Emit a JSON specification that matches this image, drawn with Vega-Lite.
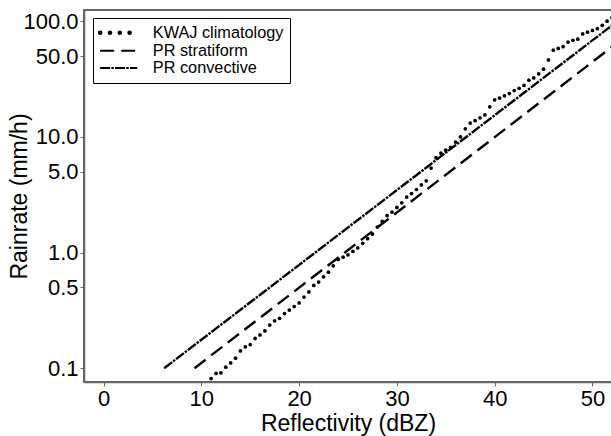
{
  "$schema": "https://vega.github.io/schema/vega-lite/v6.json",
  "width": 528,
  "height": 372,
  "autosize": {"type": "none"},
  "padding": {"left": 84, "top": 10, "right": 0, "bottom": 54},
  "background": "white",
  "config": {
    "view": {"stroke": "#333", "strokeWidth": 1.5},
    "font": "Liberation Sans",
    "axis": {
      "grid": false,
      "domainColor": "#666",
      "domainWidth": 1.5,
      "tickColor": "#666",
      "tickSize": 4,
      "labelFont": "Liberation Sans",
      "labelFontSize": 22,
      "labelColor": "black",
      "titleFont": "Liberation Sans",
      "titleFontSize": 23,
      "titleFontWeight": "normal",
      "titleColor": "black",
      "labelPadding": 2
    },
    "legend": {
      "labelFont": "Liberation Sans",
      "labelFontSize": 16.3,
      "labelColor": "black",
      "strokeWidth": 1
    }
  },
  "data": {
    "values": [
      {"series": "PR stratiform", "dbz": 9.3, "r": 0.1},
      {"series": "PR stratiform", "dbz": 52, "r": 60},
      {"series": "PR convective", "dbz": 6.2, "r": 0.1},
      {"series": "PR convective", "dbz": 52, "r": 92},
      {"series": "KWAJ climatology", "dbz": 11.0, "r": 0.0813},
      {"series": "KWAJ climatology", "dbz": 11.5, "r": 0.0902},
      {"series": "KWAJ climatology", "dbz": 12.0, "r": 0.0912},
      {"series": "KWAJ climatology", "dbz": 12.5, "r": 0.102},
      {"series": "KWAJ climatology", "dbz": 13.0, "r": 0.111},
      {"series": "KWAJ climatology", "dbz": 13.5, "r": 0.122},
      {"series": "KWAJ climatology", "dbz": 14.0, "r": 0.141},
      {"series": "KWAJ climatology", "dbz": 14.5, "r": 0.153},
      {"series": "KWAJ climatology", "dbz": 15.0, "r": 0.160},
      {"series": "KWAJ climatology", "dbz": 15.5, "r": 0.181},
      {"series": "KWAJ climatology", "dbz": 16.0, "r": 0.194},
      {"series": "KWAJ climatology", "dbz": 16.5, "r": 0.210},
      {"series": "KWAJ climatology", "dbz": 17.0, "r": 0.236},
      {"series": "KWAJ climatology", "dbz": 17.5, "r": 0.257},
      {"series": "KWAJ climatology", "dbz": 18.0, "r": 0.270},
      {"series": "KWAJ climatology", "dbz": 18.5, "r": 0.297},
      {"series": "KWAJ climatology", "dbz": 19.0, "r": 0.318},
      {"series": "KWAJ climatology", "dbz": 19.5, "r": 0.341},
      {"series": "KWAJ climatology", "dbz": 20.0, "r": 0.367},
      {"series": "KWAJ climatology", "dbz": 20.5, "r": 0.412},
      {"series": "KWAJ climatology", "dbz": 21.0, "r": 0.457},
      {"series": "KWAJ climatology", "dbz": 21.5, "r": 0.519},
      {"series": "KWAJ climatology", "dbz": 22.0, "r": 0.556},
      {"series": "KWAJ climatology", "dbz": 22.5, "r": 0.617},
      {"series": "KWAJ climatology", "dbz": 23.0, "r": 0.676},
      {"series": "KWAJ climatology", "dbz": 23.5, "r": 0.767},
      {"series": "KWAJ climatology", "dbz": 24.0, "r": 0.871},
      {"series": "KWAJ climatology", "dbz": 24.5, "r": 0.912},
      {"series": "KWAJ climatology", "dbz": 25.0, "r": 0.955},
      {"series": "KWAJ climatology", "dbz": 25.5, "r": 1.023},
      {"series": "KWAJ climatology", "dbz": 26.0, "r": 1.096},
      {"series": "KWAJ climatology", "dbz": 26.5, "r": 1.202},
      {"series": "KWAJ climatology", "dbz": 27.0, "r": 1.318},
      {"series": "KWAJ climatology", "dbz": 27.5, "r": 1.445},
      {"series": "KWAJ climatology", "dbz": 28.0, "r": 1.660},
      {"series": "KWAJ climatology", "dbz": 28.5, "r": 1.862},
      {"series": "KWAJ climatology", "dbz": 29.0, "r": 2.089},
      {"series": "KWAJ climatology", "dbz": 29.5, "r": 2.239},
      {"series": "KWAJ climatology", "dbz": 30.0, "r": 2.455},
      {"series": "KWAJ climatology", "dbz": 30.5, "r": 2.692},
      {"series": "KWAJ climatology", "dbz": 31.0, "r": 3.020},
      {"series": "KWAJ climatology", "dbz": 31.5, "r": 3.236},
      {"series": "KWAJ climatology", "dbz": 32.0, "r": 3.508},
      {"series": "KWAJ climatology", "dbz": 32.5, "r": 3.846},
      {"series": "KWAJ climatology", "dbz": 33.0, "r": 4.169},
      {"series": "KWAJ climatology", "dbz": 33.5, "r": 5.370},
      {"series": "KWAJ climatology", "dbz": 34.0, "r": 6.607},
      {"series": "KWAJ climatology", "dbz": 34.5, "r": 7.244},
      {"series": "KWAJ climatology", "dbz": 35.0, "r": 7.674},
      {"series": "KWAJ climatology", "dbz": 35.5, "r": 8.128},
      {"series": "KWAJ climatology", "dbz": 36.0, "r": 9.016},
      {"series": "KWAJ climatology", "dbz": 36.5, "r": 10.0},
      {"series": "KWAJ climatology", "dbz": 37.0, "r": 11.75},
      {"series": "KWAJ climatology", "dbz": 37.5, "r": 13.18},
      {"series": "KWAJ climatology", "dbz": 38.0, "r": 13.80},
      {"series": "KWAJ climatology", "dbz": 38.5, "r": 14.62},
      {"series": "KWAJ climatology", "dbz": 39.0, "r": 15.49},
      {"series": "KWAJ climatology", "dbz": 39.5, "r": 18.20},
      {"series": "KWAJ climatology", "dbz": 40.0, "r": 20.89},
      {"series": "KWAJ climatology", "dbz": 40.5, "r": 21.63},
      {"series": "KWAJ climatology", "dbz": 41.0, "r": 22.65},
      {"series": "KWAJ climatology", "dbz": 41.5, "r": 23.71},
      {"series": "KWAJ climatology", "dbz": 42.0, "r": 25.12},
      {"series": "KWAJ climatology", "dbz": 42.5, "r": 26.30},
      {"series": "KWAJ climatology", "dbz": 43.0, "r": 27.86},
      {"series": "KWAJ climatology", "dbz": 43.5, "r": 30.90},
      {"series": "KWAJ climatology", "dbz": 44.0, "r": 32.36},
      {"series": "KWAJ climatology", "dbz": 44.5, "r": 35.08},
      {"series": "KWAJ climatology", "dbz": 45.0, "r": 38.46},
      {"series": "KWAJ climatology", "dbz": 45.5, "r": 46.24},
      {"series": "KWAJ climatology", "dbz": 46.0, "r": 56.23},
      {"series": "KWAJ climatology", "dbz": 46.5, "r": 58.21},
      {"series": "KWAJ climatology", "dbz": 47.0, "r": 60.26},
      {"series": "KWAJ climatology", "dbz": 47.5, "r": 66.07},
      {"series": "KWAJ climatology", "dbz": 48.0, "r": 68.39},
      {"series": "KWAJ climatology", "dbz": 48.5, "r": 69.98},
      {"series": "KWAJ climatology", "dbz": 49.0, "r": 77.62},
      {"series": "KWAJ climatology", "dbz": 49.5, "r": 80.35},
      {"series": "KWAJ climatology", "dbz": 50.0, "r": 83.18},
      {"series": "KWAJ climatology", "dbz": 50.5, "r": 86.10},
      {"series": "KWAJ climatology", "dbz": 51.0, "r": 92.26},
      {"series": "KWAJ climatology", "dbz": 51.5, "r": 100.0},
      {"series": "KWAJ climatology", "dbz": 52.0, "r": 107.2}
    ]
  },
  "encoding": {
    "x": {
      "field": "dbz", "type": "quantitative",
      "scale": {"domain": [-2, 52], "nice": false, "zero": false},
      "axis": {"values": [0, 10, 20, 30, 40, 50], "title": "Reflectivity (dBZ)", "titlePadding": 3}
    },
    "y": {
      "field": "r", "type": "quantitative",
      "scale": {"type": "log", "domain": [0.076, 125], "nice": false},
      "axis": {"values": [0.1, 0.5, 1, 5, 10, 50, 100], "format": ".1f", "title": "Rainrate (mm/h)", "titlePadding": -9}
    }
  },
  "layer": [
    {
      "transform": [{"filter": "datum.series !== 'KWAJ climatology'"}],
      "mark": {"type": "line", "color": "black", "strokeWidth": 2.4, "clip": true},
      "encoding": {
        "strokeDash": {
          "field": "series", "type": "nominal",
          "scale": {
            "domain": ["KWAJ climatology", "PR stratiform", "PR convective"],
            "range": [[0.1, 9.7], [14, 7], [10, 1.2, 2.5, 1.2]]
          },
          "legend": {
            "title": null,
            "orient": "none",
            "legendX": 9,
            "legendY": 8,
            "padding": 6.5,
            "strokeColor": "black",
            "fillColor": "white",
            "symbolType": "stroke",
            "symbolSize": 1369,
            "symbolStrokeWidth": 2,
            "symbolStrokeColor": "black",
            "symbolOffset": 11,
            "labelOffset": 26,
            "rowPadding": 0.2,
            "cornerRadius": 0,
            "encode": {
              "symbols": {
                "update": {
                  "strokeWidth": {"signal": "datum.value === 'KWAJ climatology' ? 4.5 : 2"},
                  "strokeCap": {"signal": "datum.value === 'KWAJ climatology' ? 'round' : 'butt'"}
                }
              }
            }
          }
        }
      }
    },
    {
      "transform": [{"filter": "datum.series === 'KWAJ climatology'"}],
      "mark": {"type": "point", "filled": true, "color": "black", "size": 14, "opacity": 1, "clip": true}
    }
  ]
}
